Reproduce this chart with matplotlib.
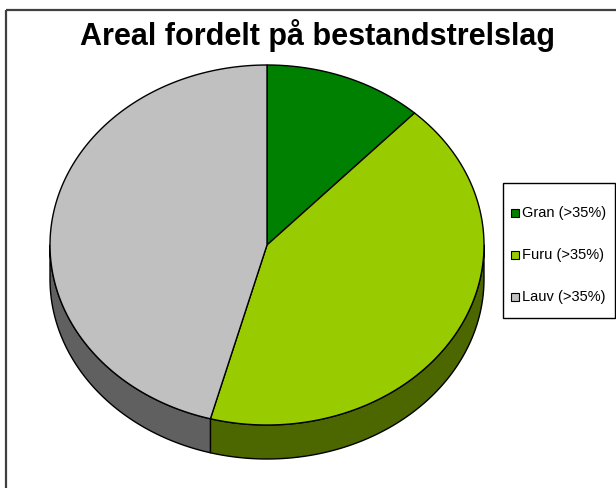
import numpy as np
import matplotlib
matplotlib.use("Agg")
import matplotlib.pyplot as plt
from matplotlib.patches import Polygon, Rectangle

plt.rcParams['font.family'] = ['Liberation Sans', 'DejaVu Sans']

title = "Areal fordelt på bestandstrelslag"
labels = ["Gran (>35%)", "Furu (>35%)", "Lauv (>35%)"]
values = [11.9, 42.3, 45.8]
top_colors = ["#008000", "#99CC00", "#C0C0C0"]
side_colors = ["#004000", "#4C6600", "#606060"]

W, H = 616, 488
fig = plt.figure(figsize=(W / 100, H / 100), dpi=100)
ax = fig.add_axes([0, 0, 1, 1])
ax.set_xlim(0, W)
ax.set_ylim(H, 0)
ax.axis('off')

# outer chart frame (cropped at right/bottom)
ax.add_patch(Rectangle((6, 10), W + 20, H + 20, fill=False, edgecolor="#404040", lw=1.6))

ax.text(317, 45, title, ha='center', va='baseline', fontsize=22, fontweight='bold')

cx, cy, a, b, depth = 267, 245, 217, 180, 34

def pt(theta_deg, dz=0.0):
    t = np.radians(theta_deg)
    return cx + a * np.cos(t), cy - b * np.sin(t) + dz

total = sum(values)
angles = [90.0]
for v in values:
    angles.append(angles[-1] - 360.0 * v / total)

# side walls (front half: angles between -180 and 0)
for i in range(len(values)):
    t1, t2 = angles[i], angles[i + 1]  # t1 > t2
    lo, hi = max(t2, -180.0), min(t1, 0.0)
    if hi <= lo:
        continue
    ts = np.linspace(hi, lo, 100)
    top = [pt(t) for t in ts]
    bot = [pt(t, depth) for t in ts[::-1]]
    ax.add_patch(Polygon(top + bot, closed=True, facecolor=side_colors[i],
                         edgecolor='black', lw=1.0, joinstyle='round'))

# top face wedges
for i in range(len(values)):
    t1, t2 = angles[i], angles[i + 1]
    ts = np.linspace(t1, t2, 200)
    verts = [(cx, cy)] + [pt(t) for t in ts]
    ax.add_patch(Polygon(verts, closed=True, facecolor=top_colors[i],
                         edgecolor='black', lw=1.0, joinstyle='round'))

# legend
ax.add_patch(Rectangle((503, 183), 112, 135, facecolor='white', edgecolor='black', lw=1.0))
leg_y = [213, 255, 297]
for lab, col, y in zip(labels, top_colors, leg_y):
    ax.add_patch(Rectangle((511, y - 4.5), 8, 8, facecolor=col, edgecolor='black', lw=0.8))
    ax.text(522, y, lab, ha='left', va='center', fontsize=10.5)

fig.savefig("out.png", dpi=100)
